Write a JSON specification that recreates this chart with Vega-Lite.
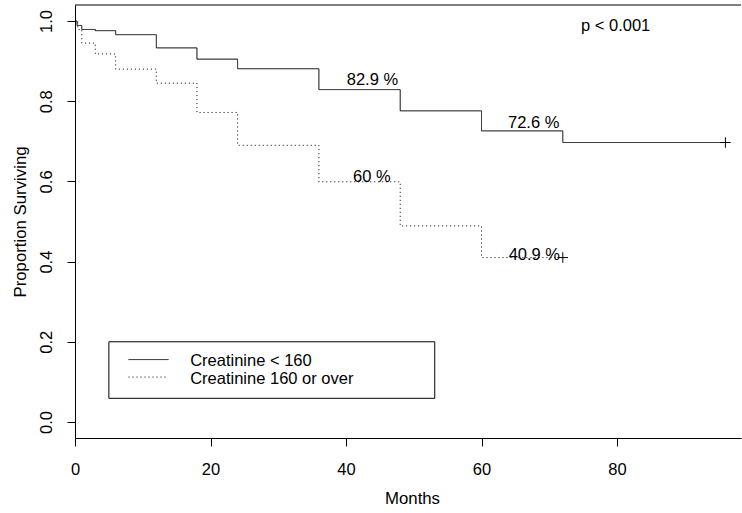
{
  "$schema": "https://vega.github.io/schema/vega-lite/v6.json",
  "width": 666,
  "height": 433,
  "autosize": {"type": "none"},
  "padding": {"left": 75, "top": 5, "right": 1, "bottom": 75},
  "background": "white",
  "config": {
    "view": {"stroke": null},
    "font": "Liberation Sans",
    "axis": {
      "grid": false,
      "domainColor": "black",
      "tickColor": "black",
      "labelColor": "black",
      "titleColor": "black",
      "labelFont": "Liberation Sans",
      "titleFont": "Liberation Sans",
      "titleFontWeight": "normal",
      "labelFontSize": 16.5,
      "titleFontSize": 16.8,
      "tickSize": 8,
      "labelFlush": false,
      "labelOverlap": false
    }
  },
  "datasets": {
    "curves": [
      {"month": 0, "surv": 1.0, "group": "Creatinine < 160"},
      {"month": 0.3, "surv": 0.989, "group": "Creatinine < 160"},
      {"month": 1, "surv": 0.979, "group": "Creatinine < 160"},
      {"month": 3, "surv": 0.976, "group": "Creatinine < 160"},
      {"month": 6, "surv": 0.966, "group": "Creatinine < 160"},
      {"month": 12, "surv": 0.933, "group": "Creatinine < 160"},
      {"month": 18, "surv": 0.905, "group": "Creatinine < 160"},
      {"month": 24, "surv": 0.881, "group": "Creatinine < 160"},
      {"month": 36, "surv": 0.829, "group": "Creatinine < 160"},
      {"month": 48, "surv": 0.776, "group": "Creatinine < 160"},
      {"month": 60, "surv": 0.726, "group": "Creatinine < 160"},
      {"month": 72, "surv": 0.697, "group": "Creatinine < 160"},
      {"month": 96, "surv": 0.697, "group": "Creatinine < 160"},
      {"month": 0, "surv": 1.0, "group": "Creatinine 160 or over"},
      {"month": 0.4, "surv": 0.979, "group": "Creatinine 160 or over"},
      {"month": 1, "surv": 0.945, "group": "Creatinine 160 or over"},
      {"month": 3, "surv": 0.918, "group": "Creatinine 160 or over"},
      {"month": 6, "surv": 0.880, "group": "Creatinine 160 or over"},
      {"month": 12, "surv": 0.845, "group": "Creatinine 160 or over"},
      {"month": 18, "surv": 0.772, "group": "Creatinine 160 or over"},
      {"month": 24, "surv": 0.690, "group": "Creatinine 160 or over"},
      {"month": 36, "surv": 0.599, "group": "Creatinine 160 or over"},
      {"month": 48, "surv": 0.489, "group": "Creatinine 160 or over"},
      {"month": 60, "surv": 0.410, "group": "Creatinine 160 or over"},
      {"month": 72, "surv": 0.410, "group": "Creatinine 160 or over"}
    ],
    "censor": [
      {"month": 96, "surv": 0.697},
      {"month": 72, "surv": 0.410}
    ],
    "notes": [
      {"month": 43.9, "surv": 0.84, "label": "82.9 %"},
      {"month": 67.7, "surv": 0.733, "label": "72.6 %"},
      {"month": 43.8, "surv": 0.599, "label": "60 %"},
      {"month": 67.8, "surv": 0.403, "label": "40.9 %"},
      {"month": 79.8, "surv": 0.975, "label": "p < 0.001"}
    ],
    "legendbox": [{"x1": 5, "x2": 53.1, "y1": 0.2, "y2": 0.059}],
    "legendkey": [
      {"x1": 7.9, "x2": 13.8, "y": 0.1556, "group": "Creatinine < 160"},
      {"x1": 7.9, "x2": 13.8, "y": 0.112, "group": "Creatinine 160 or over"}
    ],
    "legendtext": [
      {"x": 17.0, "y": 0.139, "label": "Creatinine < 160"},
      {"x": 17.0, "y": 0.0958, "label": "Creatinine 160 or over"}
    ]
  },
  "layer": [
    {
      "data": {"name": "curves"},
      "mark": {"type": "line", "interpolate": "step-after", "color": "black", "strokeWidth": 1},
      "encoding": {
        "x": {
          "field": "month", "type": "quantitative",
          "scale": {"domain": [0, 98.3], "nice": false, "zero": false},
          "axis": {
            "values": [0, 20, 40, 60, 80],
            "title": "Months",
            "labelBaseline": "alphabetic",
            "labelPadding": 28,
            "titleX": 337,
            "titleY": 65,
            "titleBaseline": "alphabetic",
            "titleAlign": "center"
          }
        },
        "y": {
          "field": "surv", "type": "quantitative",
          "scale": {"domain": [-0.04, 1.04], "nice": false, "zero": false},
          "axis": {
            "values": [0, 0.2, 0.4, 0.6, 0.8, 1.0],
            "format": ".1f",
            "title": "Proportion Surviving",
            "labelAngle": -90,
            "labelAlign": "center",
            "labelBaseline": "alphabetic",
            "labelPadding": 16,
            "titleAngle": -90,
            "titleX": -50,
            "titleY": 216.5,
            "titleAlign": "center",
            "titleBaseline": "alphabetic"
          }
        },
        "detail": {"field": "group"},
        "strokeDash": {
          "field": "group", "type": "nominal",
          "scale": {"domain": ["Creatinine < 160", "Creatinine 160 or over"], "range": [[1, 0], [1, 3]]},
          "legend": null
        }
      }
    },
    {
      "data": {"name": "censor"},
      "mark": {"type": "point", "shape": "M-1,0L1,0M0,-1L0,1", "filled": false, "stroke": "black", "strokeWidth": 1, "size": 110, "opacity": 1},
      "encoding": {
        "x": {"field": "month", "type": "quantitative"},
        "y": {"field": "surv", "type": "quantitative"}
      }
    },
    {
      "data": {"name": "notes"},
      "mark": {"type": "text", "font": "Liberation Sans", "fontSize": 16.5, "color": "black", "align": "center", "baseline": "alphabetic"},
      "encoding": {
        "x": {"field": "month", "type": "quantitative"},
        "y": {"field": "surv", "type": "quantitative"},
        "text": {"field": "label"}
      }
    },
    {
      "data": {"name": "legendbox"},
      "mark": {"type": "rect", "fill": null, "stroke": "black", "strokeWidth": 1},
      "encoding": {
        "x": {"field": "x1", "type": "quantitative"},
        "x2": {"field": "x2"},
        "y": {"field": "y1", "type": "quantitative"},
        "y2": {"field": "y2"}
      }
    },
    {
      "data": {"name": "legendkey"},
      "mark": {"type": "rule", "color": "black", "strokeWidth": 1},
      "encoding": {
        "x": {"field": "x1", "type": "quantitative"},
        "x2": {"field": "x2"},
        "y": {"field": "y", "type": "quantitative"},
        "strokeDash": {
          "field": "group", "type": "nominal",
          "scale": {"domain": ["Creatinine < 160", "Creatinine 160 or over"], "range": [[1, 0], [1, 3]]},
          "legend": null
        }
      }
    },
    {
      "data": {"name": "legendtext"},
      "mark": {"type": "text", "font": "Liberation Sans", "fontSize": 16.5, "color": "black", "align": "left", "baseline": "alphabetic"},
      "encoding": {
        "x": {"field": "x", "type": "quantitative"},
        "y": {"field": "y", "type": "quantitative"},
        "text": {"field": "label"}
      }
    },
    {
      "data": {"values": [{}]},
      "mark": {"type": "rule", "color": "black", "strokeWidth": 1},
      "encoding": {"y": {"datum": 1.04}}
    }
  ]
}
